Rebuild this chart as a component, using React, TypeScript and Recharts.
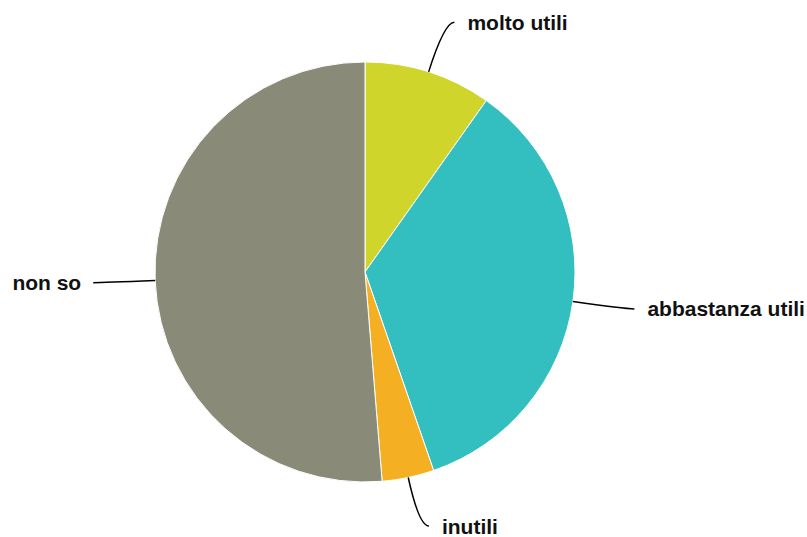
import { PieChart, Pie, Cell } from 'recharts'

const categories = ['molto utili', 'abbastanza utili', 'inutili', 'non so']
const values = [9.8, 34.9, 4.0, 51.3]
const colors = ['#CFD52A', '#33BEC0', '#F5AF22', '#898A78']

const data = categories.map((name, i) => ({ name, value: values[i] }))

const RADIAN = Math.PI / 180

const renderLabel = (props: any) => {
  const { cx, cy, midAngle, outerRadius, name } = props
  const cos = Math.cos(-midAngle * RADIAN)
  const sin = Math.sin(-midAngle * RADIAN)
  const sx = cx + outerRadius * cos
  const sy = cy + outerRadius * sin
  const R = outerRadius + 52
  const mx = cx + R * cos
  // keep the bottom label inside the picture
  const my = Math.min(cy + R * sin, 526)
  const right = cos >= 0
  const ex = mx + (right ? 10 : -10)
  const ey = my
  const tx = ex + (right ? 13 : -12)
  return (
    <g>
      <path
        d={`M${sx},${sy} Q${mx},${my} ${ex},${ey}`}
        stroke="#000"
        strokeWidth={1.5}
        fill="none"
      />
      <text
        x={tx}
        y={ey}
        textAnchor={right ? 'start' : 'end'}
        dominantBaseline="central"
        fontFamily="'Liberation Sans', Arial, sans-serif"
        fontWeight="bold"
        fontSize={21}
        fill="#111"
      >
        {name}
      </text>
    </g>
  )
}

export default function App() {
  return (
    <div style={{ position: 'absolute', left: 0, top: 0, background: '#fff' }}>
      <PieChart width={807} height={537} margin={{ top: 0, right: 0, bottom: 0, left: 0 }}>
        <Pie
          data={data}
          dataKey="value"
          nameKey="name"
          cx={365}
          cy={272}
          outerRadius={210}
          startAngle={90}
          endAngle={-270}
          stroke="#fff"
          strokeWidth={1}
          label={renderLabel}
          labelLine={false}
          isAnimationActive={false}
        >
          {data.map((d, i) => (
            <Cell key={d.name} fill={colors[i]} />
          ))}
        </Pie>
      </PieChart>
    </div>
  )
}
